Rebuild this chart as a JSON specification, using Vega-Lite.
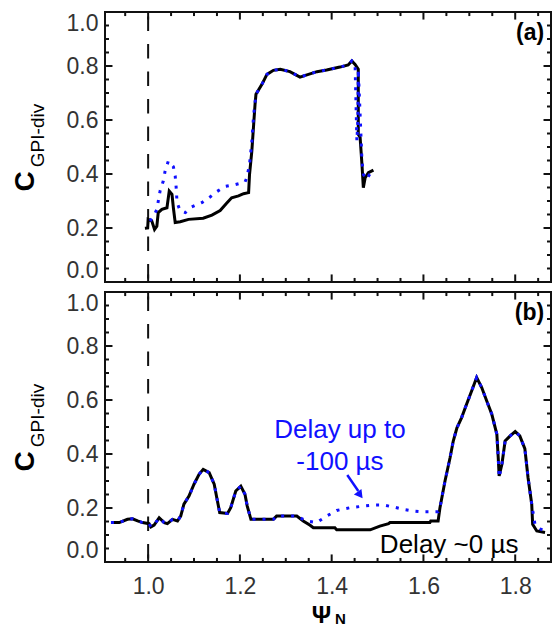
{
  "$schema": "https://vega.github.io/schema/vega-lite/v6.json",
  "background": "white",
  "padding": {"left": 10, "top": 10, "right": 4, "bottom": 0},
  "bounds": "flush",
  "spacing": 10,
  "config": {
    "font": "Liberation Sans",
    "view": {"stroke": "#111111", "strokeWidth": 2},
    "axis": {
      "domain": false, "grid": false, "ticks": false, "tickSize": 0,
      "labelFont": "Liberation Sans", "labelFontSize": 23, "labelColor": "#333333",
      "titleFont": "Liberation Sans", "titleColor": "#000000"
    }
  },
  "datasets": {
    "ak": [
      {"x":0.993,"y":0.199},{"x":0.999,"y":0.2},{"x":1.0,"y":0.232},{"x":1.008,"y":0.226},{"x":1.014,"y":0.195},{"x":1.019,"y":0.207},{"x":1.022,"y":0.257},{"x":1.03,"y":0.269},{"x":1.041,"y":0.275},{"x":1.046,"y":0.337},{"x":1.052,"y":0.325},{"x":1.055,"y":0.275},{"x":1.059,"y":0.22},{"x":1.07,"y":0.223},{"x":1.088,"y":0.232},{"x":1.12,"y":0.236},{"x":1.139,"y":0.248},{"x":1.157,"y":0.265},{"x":1.17,"y":0.29},{"x":1.182,"y":0.312},{"x":1.197,"y":0.319},{"x":1.208,"y":0.327},{"x":1.219,"y":0.331},{"x":1.221,"y":0.399},{"x":1.226,"y":0.485},{"x":1.23,"y":0.584},{"x":1.233,"y":0.658},{"x":1.235,"y":0.695},{"x":1.248,"y":0.732},{"x":1.259,"y":0.769},{"x":1.273,"y":0.784},{"x":1.288,"y":0.788},{"x":1.309,"y":0.779},{"x":1.331,"y":0.759},{"x":1.346,"y":0.767},{"x":1.368,"y":0.779},{"x":1.389,"y":0.785},{"x":1.418,"y":0.796},{"x":1.436,"y":0.804},{"x":1.444,"y":0.819},{"x":1.451,"y":0.806},{"x":1.458,"y":0.788},{"x":1.458,"y":0.547},{"x":1.462,"y":0.535},{"x":1.466,"y":0.436},{"x":1.469,"y":0.349},{"x":1.473,"y":0.386},{"x":1.48,"y":0.405},{"x":1.491,"y":0.414}
    ],
    "ab": [
      {"x":1.004,"y":0.226},{"x":1.012,"y":0.244},{"x":1.019,"y":0.269},{"x":1.026,"y":0.337},{"x":1.033,"y":0.374},{"x":1.037,"y":0.411},{"x":1.044,"y":0.448},{"x":1.055,"y":0.427},{"x":1.059,"y":0.393},{"x":1.061,"y":0.352},{"x":1.063,"y":0.294},{"x":1.07,"y":0.263},{"x":1.081,"y":0.257},{"x":1.095,"y":0.278},{"x":1.117,"y":0.294},{"x":1.135,"y":0.315},{"x":1.15,"y":0.335},{"x":1.168,"y":0.354},{"x":1.19,"y":0.361},{"x":1.211,"y":0.37},{"x":1.215,"y":0.386},{"x":1.221,"y":0.436},{"x":1.226,"y":0.519},{"x":1.23,"y":0.62},{"x":1.235,"y":0.695},{"x":1.248,"y":0.732},{"x":1.259,"y":0.769},{"x":1.273,"y":0.784},{"x":1.288,"y":0.788},{"x":1.309,"y":0.779},{"x":1.331,"y":0.759},{"x":1.346,"y":0.767},{"x":1.368,"y":0.779},{"x":1.389,"y":0.785},{"x":1.418,"y":0.796},{"x":1.436,"y":0.804},{"x":1.444,"y":0.819},{"x":1.451,"y":0.806},{"x":1.458,"y":0.788},{"x":1.457,"y":0.6},{"x":1.455,"y":0.522},{"x":1.466,"y":0.45},{"x":1.469,"y":0.399},{"x":1.476,"y":0.38},{"x":1.487,"y":0.411},{"x":1.494,"y":0.415}
    ],
    "bk": [
      {"x":0.919,"y":0.146},{"x":0.937,"y":0.146},{"x":0.955,"y":0.158},{"x":0.966,"y":0.16},{"x":0.977,"y":0.152},{"x":0.988,"y":0.146},{"x":1.002,"y":0.142},{"x":1.006,"y":0.13},{"x":1.013,"y":0.137},{"x":1.024,"y":0.164},{"x":1.035,"y":0.146},{"x":1.042,"y":0.142},{"x":1.053,"y":0.158},{"x":1.064,"y":0.152},{"x":1.071,"y":0.17},{"x":1.078,"y":0.214},{"x":1.089,"y":0.244},{"x":1.1,"y":0.288},{"x":1.111,"y":0.325},{"x":1.12,"y":0.343},{"x":1.133,"y":0.331},{"x":1.144,"y":0.288},{"x":1.151,"y":0.226},{"x":1.156,"y":0.183},{"x":1.173,"y":0.18},{"x":1.18,"y":0.201},{"x":1.191,"y":0.263},{"x":1.202,"y":0.281},{"x":1.211,"y":0.251},{"x":1.216,"y":0.207},{"x":1.224,"y":0.158},{"x":1.273,"y":0.158},{"x":1.28,"y":0.17},{"x":1.324,"y":0.17},{"x":1.338,"y":0.152},{"x":1.353,"y":0.136},{"x":1.36,"y":0.127},{"x":1.407,"y":0.127},{"x":1.411,"y":0.119},{"x":1.484,"y":0.119},{"x":1.505,"y":0.133},{"x":1.524,"y":0.142},{"x":1.527,"y":0.146},{"x":1.614,"y":0.146},{"x":1.616,"y":0.152},{"x":1.632,"y":0.152},{"x":1.636,"y":0.201},{"x":1.647,"y":0.3},{"x":1.658,"y":0.386},{"x":1.665,"y":0.448},{"x":1.673,"y":0.497},{"x":1.683,"y":0.534},{"x":1.694,"y":0.584},{"x":1.705,"y":0.633},{"x":1.716,"y":0.683},{"x":1.727,"y":0.646},{"x":1.738,"y":0.596},{"x":1.749,"y":0.547},{"x":1.76,"y":0.473},{"x":1.763,"y":0.386},{"x":1.765,"y":0.319},{"x":1.771,"y":0.362},{"x":1.778,"y":0.448},{"x":1.789,"y":0.467},{"x":1.8,"y":0.483},{"x":1.81,"y":0.467},{"x":1.821,"y":0.42},{"x":1.828,"y":0.312},{"x":1.836,"y":0.214},{"x":1.838,"y":0.14},{"x":1.847,"y":0.115},{"x":1.865,"y":0.109}
    ],
    "bb": [
      {"x":0.919,"y":0.146},{"x":0.937,"y":0.146},{"x":0.955,"y":0.158},{"x":0.966,"y":0.16},{"x":0.977,"y":0.152},{"x":0.988,"y":0.146},{"x":1.002,"y":0.142},{"x":1.006,"y":0.13},{"x":1.013,"y":0.137},{"x":1.024,"y":0.164},{"x":1.035,"y":0.146},{"x":1.042,"y":0.142},{"x":1.053,"y":0.158},{"x":1.064,"y":0.152},{"x":1.071,"y":0.17},{"x":1.078,"y":0.214},{"x":1.089,"y":0.244},{"x":1.1,"y":0.288},{"x":1.111,"y":0.325},{"x":1.12,"y":0.343},{"x":1.133,"y":0.331},{"x":1.144,"y":0.288},{"x":1.151,"y":0.226},{"x":1.156,"y":0.183},{"x":1.173,"y":0.18},{"x":1.18,"y":0.201},{"x":1.191,"y":0.263},{"x":1.202,"y":0.281},{"x":1.211,"y":0.251},{"x":1.216,"y":0.207},{"x":1.224,"y":0.158},{"x":1.273,"y":0.158},{"x":1.28,"y":0.17},{"x":1.324,"y":0.17},{"x":1.338,"y":0.158},{"x":1.346,"y":0.152},{"x":1.367,"y":0.146},{"x":1.389,"y":0.17},{"x":1.411,"y":0.191},{"x":1.44,"y":0.201},{"x":1.469,"y":0.207},{"x":1.495,"y":0.211},{"x":1.513,"y":0.211},{"x":1.534,"y":0.204},{"x":1.556,"y":0.195},{"x":1.578,"y":0.189},{"x":1.6,"y":0.186},{"x":1.632,"y":0.186},{"x":1.636,"y":0.201},{"x":1.647,"y":0.3},{"x":1.658,"y":0.386},{"x":1.665,"y":0.448},{"x":1.673,"y":0.497},{"x":1.683,"y":0.534},{"x":1.694,"y":0.584},{"x":1.705,"y":0.633},{"x":1.716,"y":0.683},{"x":1.727,"y":0.646},{"x":1.738,"y":0.596},{"x":1.749,"y":0.547},{"x":1.76,"y":0.473},{"x":1.763,"y":0.386},{"x":1.765,"y":0.313},{"x":1.771,"y":0.362},{"x":1.778,"y":0.448},{"x":1.789,"y":0.467},{"x":1.8,"y":0.483},{"x":1.81,"y":0.467},{"x":1.821,"y":0.42},{"x":1.828,"y":0.312},{"x":1.836,"y":0.214},{"x":1.843,"y":0.14},{"x":1.855,"y":0.122},{"x":1.869,"y":0.112}
    ],
    "xmaj": [{"v":1.0},{"v":1.2},{"v":1.4},{"v":1.6},{"v":1.8}],
    "xmin": [{"v":0.95},{"v":1.05},{"v":1.1},{"v":1.15},{"v":1.25},{"v":1.3},{"v":1.35},{"v":1.45},{"v":1.5},{"v":1.55},{"v":1.65},{"v":1.7},{"v":1.75},{"v":1.85}],
    "ymaj": [{"v":0.2},{"v":0.4},{"v":0.6},{"v":0.8}],
    "ymin": [{"v":0.05},{"v":0.1},{"v":0.15},{"v":0.25},{"v":0.3},{"v":0.35},{"v":0.45},{"v":0.5},{"v":0.55},{"v":0.65},{"v":0.7},{"v":0.75},{"v":0.85},{"v":0.9},{"v":0.95}],
    "one": [{}]
  },
  "vconcat": [
    {
      "width": 446, "height": 270,
      "resolve": {"axis": {"x": "independent", "y": "independent"}},
      "encoding": {
        "x": {"type": "quantitative", "scale": {"domain": [0.906, 1.878], "nice": false, "zero": false}},
        "y": {"type": "quantitative", "scale": {"domain": [0, 1], "nice": false, "zero": false}}
      },
      "layer": [
        {"data": {"name": "one"}, "mark": {"type": "rule", "color": "#111111", "strokeWidth": 2, "strokeDash": [14.5, 13], "strokeDashOffset": 23},
          "encoding": {"x": {"datum": 1.0, "type": "quantitative", "axis": null}}},
        {"data": {"name": "xmaj"}, "mark": {"type": "rule", "color": "#111111", "strokeWidth": 2},
          "encoding": {"x": {"field": "v", "type": "quantitative", "axis": null}, "y": {"datum": 0, "type": "quantitative", "axis": null}, "y2": {"datum": 0.028}}},
        {"data": {"name": "xmin"}, "mark": {"type": "rule", "color": "#111111", "strokeWidth": 2},
          "encoding": {"x": {"field": "v", "type": "quantitative", "axis": null}, "y": {"datum": 0, "type": "quantitative", "axis": null}, "y2": {"datum": 0.015}}},
        {"data": {"name": "xmaj"}, "mark": {"type": "rule", "color": "#111111", "strokeWidth": 2},
          "encoding": {"x": {"field": "v", "type": "quantitative", "axis": null}, "y": {"datum": 1, "type": "quantitative", "axis": null}, "y2": {"datum": 0.972}}},
        {"data": {"name": "xmin"}, "mark": {"type": "rule", "color": "#111111", "strokeWidth": 2},
          "encoding": {"x": {"field": "v", "type": "quantitative", "axis": null}, "y": {"datum": 1, "type": "quantitative", "axis": null}, "y2": {"datum": 0.985}}},
        {"data": {"name": "ymaj"}, "mark": {"type": "rule", "color": "#111111", "strokeWidth": 2},
          "encoding": {"y": {"field": "v", "type": "quantitative", "axis": null}, "x": {"datum": 0.906, "type": "quantitative", "axis": null}, "x2": {"datum": 0.9223}}},
        {"data": {"name": "ymin"}, "mark": {"type": "rule", "color": "#111111", "strokeWidth": 2},
          "encoding": {"y": {"field": "v", "type": "quantitative", "axis": null}, "x": {"datum": 0.906, "type": "quantitative", "axis": null}, "x2": {"datum": 0.9147}}},
        {"data": {"name": "ymaj"}, "mark": {"type": "rule", "color": "#111111", "strokeWidth": 2},
          "encoding": {"y": {"field": "v", "type": "quantitative", "axis": null}, "x": {"datum": 1.878, "type": "quantitative", "axis": null}, "x2": {"datum": 1.8617}}},
        {"data": {"name": "ymin"}, "mark": {"type": "rule", "color": "#111111", "strokeWidth": 2},
          "encoding": {"y": {"field": "v", "type": "quantitative", "axis": null}, "x": {"datum": 1.878, "type": "quantitative", "axis": null}, "x2": {"datum": 1.8693}}},
        {
          "data": {"name": "ak"},
          "mark": {"type": "line", "color": "#000000", "strokeWidth": 3},
          "encoding": {
            "x": {"field": "x", "type": "quantitative", "axis": null},
            "y": {"field": "y", "type": "quantitative",
              "axis": {"orient": "left", "values": [0,0.2,0.4,0.6,0.8,1], "format": ".1f",
                "labelFlush": true, "labelPadding": 7,
                "title": "C", "titleFontSize": 28, "titleFontWeight": "bold", "titleAngle": -90, "titleX": -72, "titleY": 169, "titleAlign": "center", "titleBaseline": "alphabetic"}}
          }
        },
        {
          "data": {"name": "ab"},
          "mark": {"type": "line", "color": "#1010ff", "strokeWidth": 3, "strokeDash": [3, 7]},
          "encoding": {
            "x": {"field": "x", "type": "quantitative", "axis": null},
            "y": {"field": "y", "type": "quantitative", "axis": null}
          }
        },
        {
          "data": {"name": "one"},
          "mark": {"type": "text", "text": "(a)", "font": "Liberation Sans", "fontSize": 23, "fontWeight": "bold", "align": "right", "baseline": "alphabetic", "color": "#000000"},
          "encoding": {
            "x": {"datum": 1.863, "type": "quantitative", "axis": null},
            "y": {"datum": 0.896, "type": "quantitative",
              "axis": {"orient": "right", "values": [0.5], "labels": false,
                "title": "GPI-div", "titleFontSize": 19, "titleFontWeight": "normal", "titleAngle": -90, "titleX": -508, "titleY": 123, "titleAlign": "center", "titleBaseline": "alphabetic"}}
          }
        }
      ]
    },
    {
      "width": 446, "height": 270,
      "resolve": {"axis": {"x": "independent", "y": "independent"}},
      "encoding": {
        "x": {"type": "quantitative", "scale": {"domain": [0.906, 1.878], "nice": false, "zero": false}},
        "y": {"type": "quantitative", "scale": {"domain": [0, 1], "nice": false, "zero": false}}
      },
      "layer": [
        {"data": {"name": "one"}, "mark": {"type": "rule", "color": "#111111", "strokeWidth": 2, "strokeDash": [14.5, 13], "strokeDashOffset": 23},
          "encoding": {"x": {"datum": 1.0, "type": "quantitative", "axis": null}}},
        {"data": {"name": "xmaj"}, "mark": {"type": "rule", "color": "#111111", "strokeWidth": 2},
          "encoding": {"x": {"field": "v", "type": "quantitative", "axis": null}, "y": {"datum": 0, "type": "quantitative", "axis": null}, "y2": {"datum": 0.028}}},
        {"data": {"name": "xmin"}, "mark": {"type": "rule", "color": "#111111", "strokeWidth": 2},
          "encoding": {"x": {"field": "v", "type": "quantitative", "axis": null}, "y": {"datum": 0, "type": "quantitative", "axis": null}, "y2": {"datum": 0.015}}},
        {"data": {"name": "xmaj"}, "mark": {"type": "rule", "color": "#111111", "strokeWidth": 2},
          "encoding": {"x": {"field": "v", "type": "quantitative", "axis": null}, "y": {"datum": 1, "type": "quantitative", "axis": null}, "y2": {"datum": 0.972}}},
        {"data": {"name": "xmin"}, "mark": {"type": "rule", "color": "#111111", "strokeWidth": 2},
          "encoding": {"x": {"field": "v", "type": "quantitative", "axis": null}, "y": {"datum": 1, "type": "quantitative", "axis": null}, "y2": {"datum": 0.985}}},
        {"data": {"name": "ymaj"}, "mark": {"type": "rule", "color": "#111111", "strokeWidth": 2},
          "encoding": {"y": {"field": "v", "type": "quantitative", "axis": null}, "x": {"datum": 0.906, "type": "quantitative", "axis": null}, "x2": {"datum": 0.9223}}},
        {"data": {"name": "ymin"}, "mark": {"type": "rule", "color": "#111111", "strokeWidth": 2},
          "encoding": {"y": {"field": "v", "type": "quantitative", "axis": null}, "x": {"datum": 0.906, "type": "quantitative", "axis": null}, "x2": {"datum": 0.9147}}},
        {"data": {"name": "ymaj"}, "mark": {"type": "rule", "color": "#111111", "strokeWidth": 2},
          "encoding": {"y": {"field": "v", "type": "quantitative", "axis": null}, "x": {"datum": 1.878, "type": "quantitative", "axis": null}, "x2": {"datum": 1.8617}}},
        {"data": {"name": "ymin"}, "mark": {"type": "rule", "color": "#111111", "strokeWidth": 2},
          "encoding": {"y": {"field": "v", "type": "quantitative", "axis": null}, "x": {"datum": 1.878, "type": "quantitative", "axis": null}, "x2": {"datum": 1.8693}}},
        {
          "data": {"name": "bk"},
          "mark": {"type": "line", "color": "#000000", "strokeWidth": 3},
          "encoding": {
            "x": {"field": "x", "type": "quantitative",
              "axis": {"orient": "bottom", "values": [1,1.2,1.4,1.6,1.8], "format": ".1f",
                "labelPadding": 13,
                "title": "Ψ", "titleFontSize": 24, "titleFontWeight": "bold", "titleX": 216, "titleY": 60, "titleAlign": "center", "titleBaseline": "alphabetic", "titleAngle": 0}},
            "y": {"field": "y", "type": "quantitative",
              "axis": {"orient": "left", "values": [0,0.2,0.4,0.6,0.8,1], "format": ".1f",
                "labelFlush": true, "labelPadding": 7,
                "title": "C", "titleFontSize": 28, "titleFontWeight": "bold", "titleAngle": -90, "titleX": -72, "titleY": 169, "titleAlign": "center", "titleBaseline": "alphabetic"}}
          }
        },
        {
          "data": {"name": "bb"},
          "mark": {"type": "line", "color": "#1010ff", "strokeWidth": 3, "strokeDash": [3, 7]},
          "encoding": {
            "x": {"field": "x", "type": "quantitative", "axis": null},
            "y": {"field": "y", "type": "quantitative", "axis": null}
          }
        },
        {
          "data": {"name": "one"},
          "mark": {"type": "text", "text": "(b)", "font": "Liberation Sans", "fontSize": 23, "fontWeight": "bold", "align": "right", "baseline": "alphabetic", "color": "#000000"},
          "encoding": {
            "x": {"datum": 1.863, "type": "quantitative",
              "axis": {"orient": "top", "values": [1.4], "labels": false,
                "title": "N", "titleFontSize": 15, "titleFontWeight": "bold", "titleX": 235, "titleY": 331, "titleAlign": "center", "titleBaseline": "alphabetic", "titleAngle": 0}},
            "y": {"datum": 0.896, "type": "quantitative",
              "axis": {"orient": "right", "values": [0.5], "labels": false,
                "title": "GPI-div", "titleFontSize": 19, "titleFontWeight": "normal", "titleAngle": -90, "titleX": -508, "titleY": 123, "titleAlign": "center", "titleBaseline": "alphabetic"}}
          }
        },
        {
          "data": {"name": "one"},
          "mark": {"type": "text", "text": "Delay up to", "font": "Liberation Sans", "fontSize": 26, "align": "center", "baseline": "alphabetic", "color": "#1010ff"},
          "encoding": {
            "x": {"datum": 1.418, "type": "quantitative", "axis": null},
            "y": {"datum": 0.459, "type": "quantitative", "axis": null}
          }
        },
        {
          "data": {"name": "one"},
          "mark": {"type": "text", "text": "-100 µs", "font": "Liberation Sans", "fontSize": 26, "align": "center", "baseline": "alphabetic", "color": "#1010ff"},
          "encoding": {
            "x": {"datum": 1.418, "type": "quantitative", "axis": null},
            "y": {"datum": 0.341, "type": "quantitative", "axis": null}
          }
        },
        {
          "data": {"name": "one"},
          "mark": {"type": "text", "text": "Delay ~0 µs", "font": "Liberation Sans", "fontSize": 26, "align": "center", "baseline": "alphabetic", "color": "#000000"},
          "encoding": {
            "x": {"datum": 1.656, "type": "quantitative", "axis": null},
            "y": {"datum": 0.033, "type": "quantitative", "axis": null}
          }
        },
        {
          "data": {"name": "one"},
          "mark": {"type": "rule", "color": "#1010ff", "strokeWidth": 2.5},
          "encoding": {
            "x": {"datum": 1.434, "type": "quantitative", "axis": null},
            "y": {"datum": 0.322, "type": "quantitative", "axis": null},
            "x2": {"datum": 1.458},
            "y2": {"datum": 0.263}
          }
        },
        {
          "data": {"name": "one"},
          "mark": {"type": "point", "shape": "triangle-up", "filled": true, "size": 90, "angle": 143, "color": "#1010ff", "opacity": 1},
          "encoding": {
            "x": {"datum": 1.462, "type": "quantitative", "axis": null},
            "y": {"datum": 0.248, "type": "quantitative", "axis": null}
          }
        }
      ]
    }
  ]
}
